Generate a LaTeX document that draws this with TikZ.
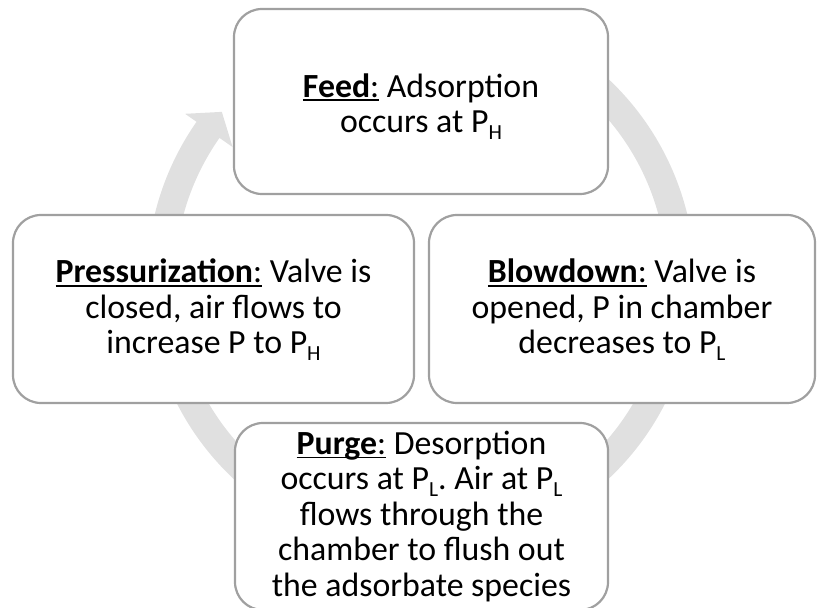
\documentclass[tikz,border=0pt]{standalone}
\usepackage{fontspec}
\setmainfont{Carlito}
\usetikzlibrary{calc}
\definecolor{boxgray}{HTML}{A0A0A0}
\definecolor{ringgray}{HTML}{E0E0E0}
\newcommand\ulbox[1]{\setbox0\hbox{#1}\rlap{\rule[-4pt]{\wd0}{1.8pt}}\box0\relax}
\newcommand\lowsub[1]{\raisebox{-7pt}{\fontsize{21.5}{21.5}\selectfont #1}}
\tikzset{
  stage/.style={draw=boxgray, line width=2.2pt, fill=white, rounded corners=28pt,
    inner sep=0pt},
  stagetext/.style={align=center, inner sep=0pt,
    font=\fontsize{33.8}{35.5}\selectfont\frenchspacing},
  ring/.style={fill=ringgray, draw=none}
}
\begin{document}
\begin{tikzpicture}[x=1pt,y=1pt]
\useasboundingbox (0,0) rectangle (817,608);
\coordinate (c) at (421,329);
% circular arrow
\path[ring] ($(c)+(70:274)$) arc[start angle=70, end angle=-215, radius=274]
  -- ($(c)+(-215:288)$) -- ($(c)+(-220:260)$) -- ($(c)+(-215:230)$)
  -- ($(c)+(-215:246)$) arc[start angle=-215, end angle=70, radius=246] -- cycle;
% stages
\node[stage, minimum width=374pt, minimum height=185pt] (feed) at (421,506.5) {};
\node[stage, minimum width=401pt, minimum height=188pt] (press) at (213.5,299) {};
\node[stage, minimum width=386pt, minimum height=188pt] (blow) at (622,299) {};
\node[stage, minimum width=373pt, minimum height=187pt] (purge) at (421.5,91.5) {};
% texts
\node[stagetext] (feedtxt) at ($(feed.center)+(0,-5)$)
  {\ulbox{\textbf{Feed}:} Adsorption\\occurs at P\lowsub{H}};
\node[stagetext] (presstxt) at ($(press.center)+(0,-1)$)
  {\ulbox{\textbf{Pressurization}:} Valve is\\closed, air flows to\\increase P to P\lowsub{H}};
\node[stagetext] (blowtxt) at ($(blow.center)+(0,-1)$)
  {\ulbox{\textbf{Blowdown}:} Valve is\\opened, P in chamber\\decreases to P\lowsub{L}};
\node[stagetext] (purgetxt) at ($(purge.center)+(0,0)$)
  {\ulbox{\textbf{Purge}:} Desorption\\occurs at P\lowsub{L}. Air at P\lowsub{L}\\flows through the\\chamber to flush out\\the adsorbate species};
\end{tikzpicture}
\end{document}
